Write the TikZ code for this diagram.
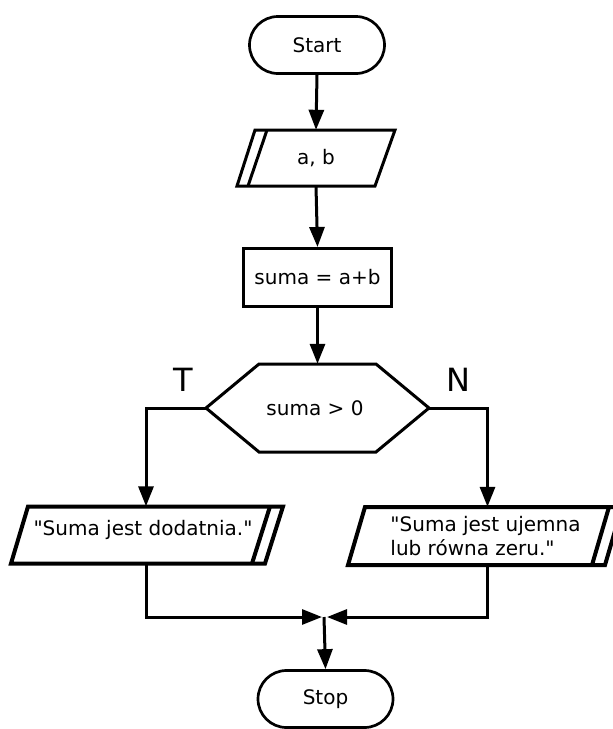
\documentclass[tikz,border=0pt]{standalone}
\usepackage{fontspec}
\setmainfont{DejaVu Sans}
\usetikzlibrary{arrows.meta}
\begin{document}
\begin{tikzpicture}[x=1pt,y=-1pt,
  flow/.style={line width=3pt},
  arr/.style={flow,-{Triangle[length=20pt,width=15pt]}},
  lbl/.style={font=\fontsize{20}{24}\selectfont, inner sep=0pt},
  big/.style={font=\fontsize{32}{36}\selectfont, inner sep=0pt},
  term/.style={draw, line width=2.7pt, rounded corners=28.5pt,
    minimum width=135pt, minimum height=57pt, lbl},
  proc/.style={draw, line width=3pt, minimum width=148pt, minimum height=58pt, lbl},
  anchorbox/.style={inner sep=0pt, minimum width=#1},
  shapeline/.style={line width=3pt, line join=miter},
  outline/.style={line width=4pt, line join=miter}
]
\useasboundingbox (0,0) rectangle (613,729);
\clip (0,0) rectangle (613,729);

% terminals and process box
\node[term] (start) at (317,45) {Start};
\node[proc] (sum) at (317.5,277.5) {suma = a+b};
\node[term] (stop) at (325.5,699) {Stop};

% input: a, b
\node[anchorbox=140pt, minimum height=56pt] (in) at (316,158) {};
\draw[shapeline] (255,130) -- (395,130) -- (375,186) -- (237,186) -- cycle;
\draw[shapeline] (267,130) -- (248,186);
\node[lbl] (intext) at (316,158) {a, b};

% decision
\node[anchorbox=223pt, minimum height=88pt] (dec) at (317.5,408) {};
\draw[shapeline] (206,408) -- (259,364) -- (376,364) -- (429,408)
  -- (376,452) -- (259,452) -- cycle;
\node[lbl] (dectext) at (315,408) {suma > 0};
\node[big] (T) at (183,380) {T};
\node[big] (N) at (458,380) {N};

% outputs
\node[anchorbox=270pt, minimum height=57pt] (outL) at (146,535) {};
\draw[outline] (28,506.5) -- (283,506.5) -- (265,563.5) -- (11,563.5) -- cycle;
\draw[outline] (270,506.5) -- (252,563.5);
\node[lbl] (outLtext) at (143,530) {\textquotedbl Suma jest dodatnia.\textquotedbl};

\node[anchorbox=270pt, minimum height=58pt] (outR) at (487.5,536) {};
\draw[outline] (365,507) -- (622,507) -- (605,565) -- (348,565) -- cycle;
\draw[outline] (609,507) -- (592,565);
\node[lbl, align=left] (outRtext) at (485.5,536)
  {\textquotedbl Suma jest ujemna\\lub równa zeru.\textquotedbl};

% connectors
\draw[arr] (start.south) -- (in.north);
\draw[arr] (in.south) -- (sum.north);
\draw[arr] (sum.south) -- (dec.north);
\draw[arr] (dec.west) -| (outL.north);
\draw[arr] (dec.east) -| (outR.north);

\coordinate (ml) at (322,617);
\coordinate (mr) at (327,617);
\coordinate (m) at (324,617);
\draw[arr] (outL.south) |- (ml);
\draw[arr] (outR.south) |- (mr);
\draw[arr] (m) -- (stop.north);
\end{tikzpicture}
\end{document}
